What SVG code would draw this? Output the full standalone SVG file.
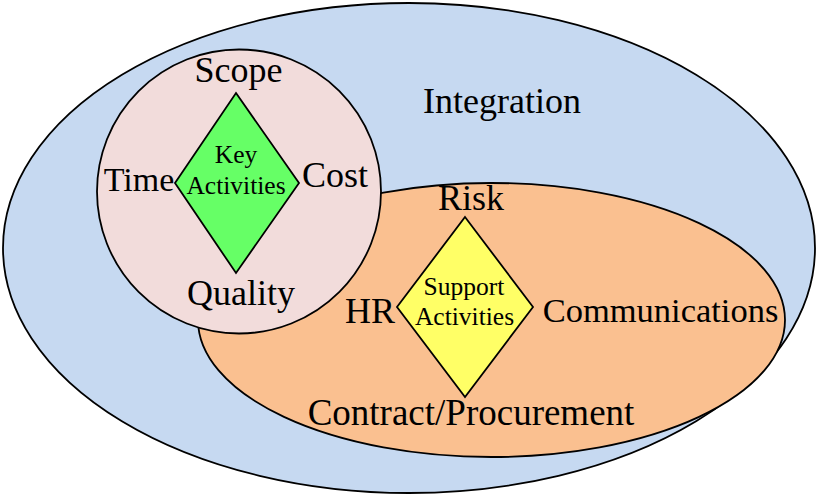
<svg xmlns="http://www.w3.org/2000/svg" width="817" height="497" viewBox="0 0 817 497">
<style>
.s{stroke:#000;stroke-width:1.8}
.t{font-family:"Liberation Serif","Times New Roman",serif;fill:#000;text-anchor:middle}
.big{font-size:36px}
.sm{font-size:25.5px}
</style>
<rect width="817" height="497" fill="#fff"/>
<g id="integration">
<ellipse class="s" cx="409" cy="248" rx="406" ry="245" fill="#c6d9f1"/>
<text class="t big" x="502" y="113">Integration</text>
</g>
<g id="support-area">
<ellipse class="s" cx="491.5" cy="320" rx="293.5" ry="137" fill="#fac090"/>
</g>
<g id="key-area">
<circle class="s" cx="239" cy="191.5" r="142" fill="#f2dcdb"/>
</g>
<g id="key-activities">
<polygon class="s" points="236,93 299,183 236,273 175,183" fill="#66ff66"/>
<text class="t sm" x="236" y="163">Key</text>
<text class="t sm" x="236" y="194">Activities</text>
</g>
<g id="support-activities">
<polygon class="s" points="465,217 533,307 465,397 397,307" fill="#ffff66"/>
<text class="t sm" x="464" y="295">Support</text>
<text class="t sm" x="464.5" y="325">Activities</text>
</g>
<g id="scope"><text class="t big" x="238.5" y="82">Scope</text></g>
<g id="time"><text class="t" style="font-size:34px" x="139" y="191">Time</text></g>
<g id="cost"><text class="t big" x="335" y="187">Cost</text></g>
<g id="quality"><text class="t big" x="241" y="305">Quality</text></g>
<g id="risk"><text class="t big" x="471" y="210">Risk</text></g>
<g id="hr"><text class="t big" x="370" y="323">HR</text></g>
<g id="communications"><text class="t" style="font-size:34.5px" x="660.5" y="322">Communications</text></g>
<g id="contract"><text class="t" style="font-size:37px" x="471" y="425">Contract/Procurement</text></g>
<g id="connectors"/>
</svg>
